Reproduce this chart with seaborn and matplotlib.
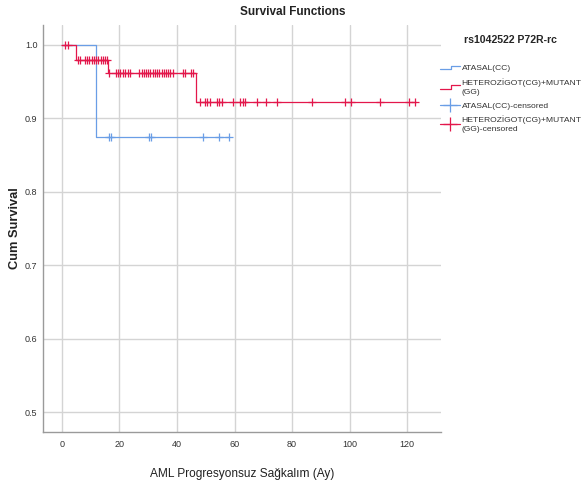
import numpy as np
import pandas as pd
import matplotlib
matplotlib.use("Agg")
import matplotlib.pyplot as plt
import seaborn as sns
from matplotlib.lines import Line2D
from matplotlib.legend_handler import HandlerBase

# ---------------- data ----------------
group_cc = "ATASAL(CC)"
group_het = "HETEROZİGOT(CG)+MUTANT\n(GG)"
legend_title = "rs1042522 P72R-rc"

cc_step_times = [0, 12, 58]
cc_step_surv = [1.0, 0.875, 0.875]
cc_censored = [16.2, 17.0, 30.1, 31.0, 48.9, 54.7, 58.0]

het_step_times = [0, 5, 16, 46.6, 123]
het_step_surv = [1.0, 0.979, 0.961, 0.922, 0.922]
het_censored = [1.0, 2.2,
                 5.5, 6.1, 8.0, 8.7, 9.5, 10.3, 11.0, 11.8, 12.6, 13.5, 14.3, 15.1, 15.7,
                 16.5, 18.8, 19.6, 20.3, 21.1, 21.9, 22.8, 23.7, 26.9, 27.7, 28.4, 29.2,
                 30.0, 30.7, 31.5, 32.4, 33.1, 33.9, 34.7, 35.4, 36.2, 37.0, 37.7, 38.5,
                 42.0, 42.8, 44.9, 45.7,
                 48.0, 49.8, 50.6, 51.5, 53.9, 54.7, 55.5, 59.6, 61.9, 62.8, 63.7, 67.8,
                 70.9, 74.8, 86.8, 98.4, 100.6, 110.6, 120.5, 122.7]

x_ticks = [0, 20, 40, 60, 80, 100, 120]
y_ticks = [0.5, 0.6, 0.7, 0.8, 0.9, 1.0]

title = "Survival Functions"
x_label = "AML Progresyonsuz Sağkalım (Ay)"
y_label = "Cum Survival"

color_cc = "#6a9ee6"
color_het = "#e3174b"

# ---------------- helpers ----------------
def surv_at(times, survs, t):
    idx = np.searchsorted(np.asarray(times), t, side="right") - 1
    return np.asarray(survs)[idx]

curves = pd.concat([
    pd.DataFrame({"time": cc_step_times, "surv": cc_step_surv, "group": group_cc}),
    pd.DataFrame({"time": het_step_times, "surv": het_step_surv, "group": group_het}),
], ignore_index=True)

cens = pd.concat([
    pd.DataFrame({"time": cc_censored,
                  "surv": [surv_at(cc_step_times, cc_step_surv, t) for t in cc_censored],
                  "group": group_cc}),
    pd.DataFrame({"time": het_censored,
                  "surv": [surv_at(het_step_times, het_step_surv, t) for t in het_censored],
                  "group": group_het}),
], ignore_index=True)

palette = {group_cc: color_cc, group_het: color_het}

fam = ["Liberation Sans", "DejaVu Sans"]

sns.set_theme(style="white")
plt.rcParams["font.family"] = fam

fig = plt.figure(figsize=(5.82, 4.88), dpi=100)
ax = fig.add_axes([43 / 582, 1 - 432 / 488, (441 - 43) / 582, (432 - 25) / 488])

for g in [group_cc, group_het]:
    sub = curves[curves.group == g]
    sns.lineplot(data=sub, x="time", y="surv", color=palette[g], drawstyle="steps-post",
                 estimator=None, sort=False, lw=0.9, ax=ax, legend=False, zorder=3)
for g in [group_cc, group_het]:
    sub = cens[cens.group == g]
    sns.scatterplot(data=sub, x="time", y="surv", color=palette[g], marker="+", s=30,
                    linewidth=0.9, ax=ax, legend=False, zorder=4)

ax.set_xlim(-6.6, 131.8)
ax.set_ylim(0.473, 1.027)
ax.set_xticks(x_ticks)
ax.set_yticks(y_ticks)
ax.set_yticklabels([f"{v:.1f}" for v in y_ticks])
ax.grid(True, color="#d4d4d4", lw=1.0)
ax.set_axisbelow(True)
for s in ["top", "right"]:
    ax.spines[s].set_visible(False)
for s in ["left", "bottom"]:
    ax.spines[s].set_color("#9a9a9a")
    ax.spines[s].set_linewidth(1.0)
ax.tick_params(axis="both", length=0, labelsize=6.5, colors="#333333")
ax.tick_params(axis="x", pad=6)
ax.tick_params(axis="y", pad=4)
ax.set_xlabel("")
ax.set_ylabel("")

fig.text(293 / 582, 1 - 12 / 488, title, ha="center", va="center", fontsize=8.5,
         fontweight="bold", color="#222222")
fig.text(242 / 582, 1 - 474 / 488, x_label, ha="center", va="center", fontsize=8.6,
         color="#222222")
fig.text(15 / 582, 1 - 228 / 488, y_label, ha="center", va="center", rotation=90,
         fontsize=9.3, fontweight="bold", color="#222222")


class StepHandler(HandlerBase):
    def create_artists(self, legend, orig_handle, xdescent, ydescent, width, height,
                       fontsize, trans):
        x0 = -xdescent
        x1 = x0 + width
        xm = x0 + width * 0.55
        ylo = -ydescent + height * 0.15
        yhi = -ydescent + height * 0.8
        ln = Line2D([x0, xm, xm, x1], [ylo, ylo, yhi, yhi],
                    color=orig_handle.get_color(), lw=0.9)
        ln.set_transform(trans)
        return [ln]


h_cc = Line2D([], [], color=color_cc)
h_het = Line2D([], [], color=color_het)
h_cc_c = Line2D([], [], color=color_cc, marker="+", markersize=10, lw=0.9, mew=0.9)
h_het_c = Line2D([], [], color=color_het, marker="+", markersize=10, lw=0.9, mew=0.9)

leg = fig.legend([h_cc, h_het, h_cc_c, h_het_c],
                 [group_cc, group_het, group_cc + "-censored",
                  "HETEROZİGOT(CG)+MUTANT\n(GG)-censored"],
                 handler_map={h_cc: StepHandler(), h_het: StepHandler()},
                 loc="upper left", bbox_to_anchor=(440 / 582, 1 - 35 / 488),
                 frameon=False, fontsize=6.1, title=legend_title,
                 title_fontproperties={"weight": "bold", "size": 7.6, "family": fam},
                 handlelength=2.4, handletextpad=0.15, labelspacing=0.65,
                 borderpad=0, borderaxespad=0)
leg._legend_box.sep = 14
for t in leg.get_texts():
    t.set_color("#333333")
    t.set_linespacing(1.5)

fig.savefig("out.png", dpi=100, facecolor="white")
